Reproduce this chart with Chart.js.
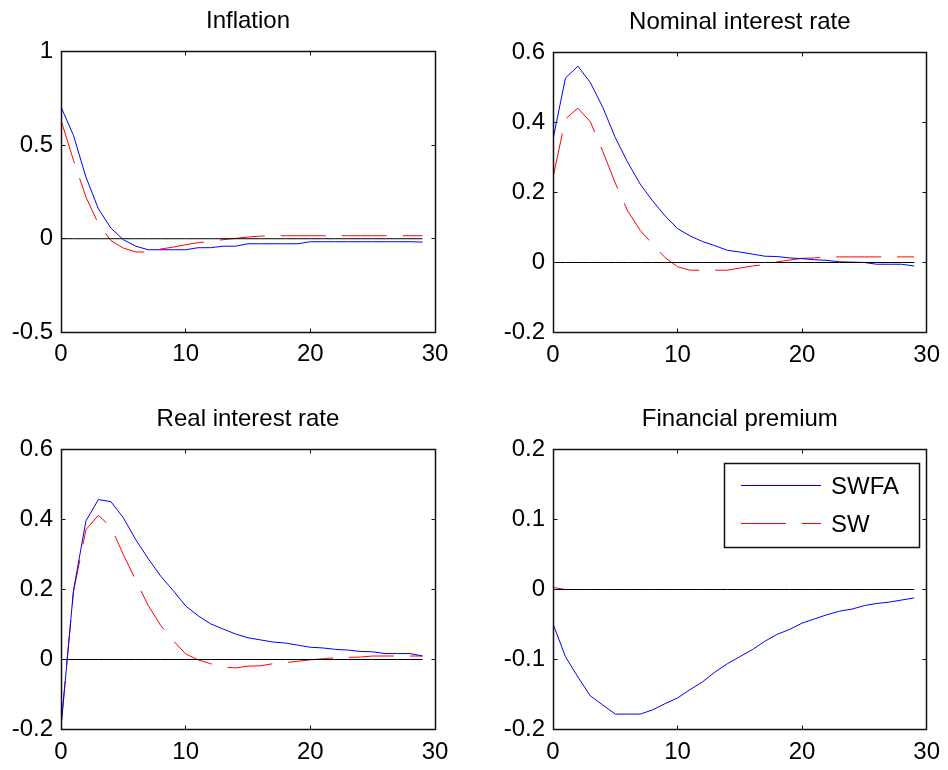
<!DOCTYPE html>
<html>
<head>
<meta charset="utf-8">
<script src="https://cdn.jsdelivr.net/npm/chart.js@4.4.0/dist/chart.umd.min.js"></script>
<style>
  html, body { margin: 0; padding: 0; background: #fff; }
  #wrap { position: relative; width: 948px; height: 770px; }
  .panel { position: absolute; width: 474px; height: 385px; }
</style>
</head>
<body>
<div id="wrap">
  <div class="panel" style="left:0;top:0"><canvas id="cInfl" width="474" height="385"></canvas></div>
  <div class="panel" style="left:474px;top:0"><canvas id="cNom" width="474" height="385"></canvas></div>
  <div class="panel" style="left:0;top:385px"><canvas id="cReal" width="474" height="385"></canvas></div>
  <div class="panel" style="left:474px;top:385px"><canvas id="cPrem" width="474" height="385"></canvas></div>
</div>
<script>
// horizon (quarters after the shock)
const periods = [0, 1, 2, 3, 4, 5, 6, 7, 8, 9, 10, 11, 12, 13, 14, 15, 16, 17, 18, 19, 20, 21, 22, 23, 24, 25, 26, 27, 28, 29];
const xTicks = [0, 10, 20, 30];

// Inflation
const inflSWFA = [0.705, 0.553, 0.33, 0.16, 0.057, -0.005, -0.04, -0.059, -0.059, -0.059, -0.059, -0.048, -0.048, -0.04, -0.04, -0.027, -0.027, -0.027, -0.027, -0.027, -0.016, -0.016, -0.016, -0.016, -0.016, -0.016, -0.016, -0.016, -0.016, -0.018];
const inflSW   = [0.634, 0.42, 0.223, 0.08, -0.01, -0.05, -0.071, -0.071, -0.055, -0.045, -0.032, -0.021, -0.014, -0.005, 0.002, 0.009, 0.014, 0.016, 0.016, 0.016, 0.016, 0.016, 0.016, 0.016, 0.016, 0.016, 0.016, 0.016, 0.016, 0.016];
const inflTicks = [-0.5, 0, 0.5, 1];

// Nominal interest rate
const nomSWFA = [0.352, 0.527, 0.561, 0.514, 0.443, 0.357, 0.286, 0.224, 0.176, 0.133, 0.097, 0.076, 0.06, 0.048, 0.035, 0.03, 0.024, 0.018, 0.017, 0.013, 0.011, 0.008, 0.006, 0.002, 0.001, 0, -0.005, -0.005, -0.005, -0.01];
const nomSW   = [0.243, 0.41, 0.441, 0.402, 0.317, 0.227, 0.147, 0.092, 0.052, 0.014, -0.012, -0.022, -0.022, -0.022, -0.022, -0.016, -0.01, -0.006, 0.002, 0.007, 0.012, 0.013, 0.016, 0.016, 0.016, 0.016, 0.016, 0.016, 0.016, 0.016];
const nomTicks = [-0.2, 0, 0.2, 0.4, 0.6];

// Real interest rate
const realSWFA = [-0.194, 0.197, 0.396, 0.457, 0.451, 0.405, 0.342, 0.288, 0.238, 0.197, 0.153, 0.125, 0.102, 0.087, 0.073, 0.062, 0.056, 0.05, 0.047, 0.041, 0.035, 0.033, 0.029, 0.027, 0.023, 0.022, 0.017, 0.017, 0.017, 0.01];
const realSW   = [-0.19, 0.193, 0.371, 0.412, 0.379, 0.3, 0.226, 0.154, 0.097, 0.054, 0.016, -0.001, -0.012, -0.022, -0.024, -0.019, -0.018, -0.012, -0.009, -0.005, -0.001, 0.002, 0.005, 0.006, 0.007, 0.01, 0.01, 0.01, 0.01, 0.01];
const realTicks = [-0.2, 0, 0.2, 0.4, 0.6];

// Financial premium
const premSWFA = [-0.049, -0.096, -0.125, -0.152, -0.165, -0.178, -0.178, -0.178, -0.172, -0.163, -0.155, -0.143, -0.132, -0.118, -0.106, -0.096, -0.086, -0.074, -0.064, -0.057, -0.048, -0.042, -0.036, -0.031, -0.028, -0.023, -0.02, -0.018, -0.015, -0.012];
const premSW   = [0.003, 0, 0, 0, 0, 0, 0, 0, 0, 0, 0, 0, 0, 0, 0, 0, 0, 0, 0, 0, 0, 0, 0, 0, 0, 0, 0, 0, 0, 0];
const premTicks = [-0.2, -0.1, 0, 0.1, 0.2];

const zeroLine = [0, 0, 0, 0, 0, 0, 0, 0, 0, 0, 0, 0, 0, 0, 0, 0, 0, 0, 0, 0, 0, 0, 0, 0, 0, 0, 0, 0, 0, 0];

const FONT = "'Liberation Sans', Arial, Helvetica, sans-serif";
const DASH = [45, 16];

function pts(arr) {
  return arr.map((v, i) => ({ x: periods[i], y: v }));
}

// box around the axes, inward ticks on all four sides, and the title
const framePlugin = {
  id: 'frame',
  afterDatasetsDraw(chart, args, opts) {
    const { ctx, chartArea: a, scales } = chart;
    const L = Math.floor(a.left) + 0.5, T = Math.floor(a.top) + 0.5;
    const R = Math.floor(a.right) + 0.5, B = Math.floor(a.bottom) + 0.5;
    ctx.save();
    ctx.strokeStyle = '#111';
    ctx.lineWidth = 1.5;
    ctx.strokeRect(L, T, R - L, B - T);
    ctx.lineWidth = 1;
    const tl = 4;
    ctx.beginPath();
    scales.x.ticks.forEach(t => {
      const px = Math.floor(scales.x.getPixelForValue(t.value)) + 0.5;
      ctx.moveTo(px, B); ctx.lineTo(px, B - tl);
      ctx.moveTo(px, T); ctx.lineTo(px, T + tl);
    });
    scales.y.ticks.forEach(t => {
      const py = Math.floor(scales.y.getPixelForValue(t.value)) + 0.5;
      ctx.moveTo(L, py); ctx.lineTo(L + tl, py);
      ctx.moveTo(R, py); ctx.lineTo(R - tl, py);
    });
    ctx.stroke();

    ctx.fillStyle = '#000';
    ctx.font = '24px ' + FONT;
    ctx.textAlign = 'center';
    ctx.textBaseline = 'alphabetic';
    ctx.fillText(opts.title, (a.left + a.right) / 2, Math.round(a.top) - 24);
    ctx.restore();
  }
};

// legend box for the premium panel
const legendPlugin = {
  id: 'boxLegend',
  afterDraw(chart) {
    const ctx = chart.ctx;
    ctx.save();
    ctx.strokeStyle = '#111';
    ctx.lineWidth = 1.5;
    ctx.strokeRect(250.5, 78.5, 195, 84);
    ctx.lineWidth = 1;
    ctx.strokeStyle = '#0000ff';
    ctx.beginPath();
    ctx.moveTo(267, 100.5); ctx.lineTo(347, 100.5);
    ctx.stroke();
    ctx.strokeStyle = '#ff0000';
    ctx.setLineDash(DASH);
    ctx.beginPath();
    ctx.moveTo(267, 138.5); ctx.lineTo(347, 138.5);
    ctx.stroke();
    ctx.setLineDash([]);
    ctx.fillStyle = '#000';
    ctx.font = '24px ' + FONT;
    ctx.textAlign = 'left';
    ctx.textBaseline = 'alphabetic';
    ctx.fillText('SWFA', 357, 109);
    ctx.fillText('SW', 357, 147);
    ctx.restore();
  }
};

function makeChart(id, title, swfa, sw, yTicks, box, extra) {
  const yMin = yTicks[0];
  const yMax = yTicks[yTicks.length - 1];
  new Chart(document.getElementById(id), {
    type: 'line',
    data: {
      datasets: [
        // drawn last, so it sits on top of the curves
        { label: 'zero', data: pts(zeroLine), borderColor: '#000', borderWidth: 1, pointRadius: 0 },
        { label: 'SWFA', data: pts(swfa), borderColor: '#0000ff', borderWidth: 1, pointRadius: 0 },
        { label: 'SW', data: pts(sw), borderColor: '#ff0000', borderWidth: 1, borderDash: DASH, pointRadius: 0 }
      ]
    },
    options: {
      responsive: false,
      animation: false,
      devicePixelRatio: 1,
      layout: { padding: { left: 0, top: box.top, right: box.right, bottom: 0 } },
      elements: { line: { tension: 0 } },
      plugins: {
        legend: { display: false },
        tooltip: { enabled: false },
        frame: { title: title }
      },
      scales: {
        x: {
          type: 'linear',
          min: 0, max: 30,
          grid: { display: false, drawTicks: false },
          border: { display: false },
          afterBuildTicks: s => { s.ticks = xTicks.map(v => ({ value: v })); },
          afterFit: s => { s.height = box.xh; },
          ticks: { color: '#000', font: { family: FONT, size: 24 }, padding: 8, maxRotation: 0 }
        },
        y: {
          min: yMin, max: yMax,
          grid: { display: false, drawTicks: false },
          border: { display: false },
          afterBuildTicks: s => { s.ticks = yTicks.map(v => ({ value: v })); },
          afterFit: s => { s.width = box.yw; },
          ticks: {
            color: '#000', font: { family: FONT, size: 24 }, padding: 8,
            callback: v => String(+v.toFixed(2))
          }
        }
      }
    },
    plugins: [framePlugin].concat(extra || [])
  });
}

// half-pixel offsets keep the zero line on a single pixel row
makeChart('cInfl', 'Inflation', inflSWFA, inflSW, inflTicks, { top: 51.83, right: 39, yw: 61, xh: 52.83 });
makeChart('cNom', 'Nominal interest rate', nomSWFA, nomSW, nomTicks, { top: 52.5, right: 19, yw: 79, xh: 52.5 });
makeChart('cReal', 'Real interest rate', realSWFA, realSW, realTicks, { top: 64.5, right: 39, yw: 61, xh: 40.5 });
makeChart('cPrem', 'Financial premium', premSWFA, premSW, premTicks, { top: 64.5, right: 19, yw: 79, xh: 40.5 }, [legendPlugin]);
</script>
</body>
</html>
